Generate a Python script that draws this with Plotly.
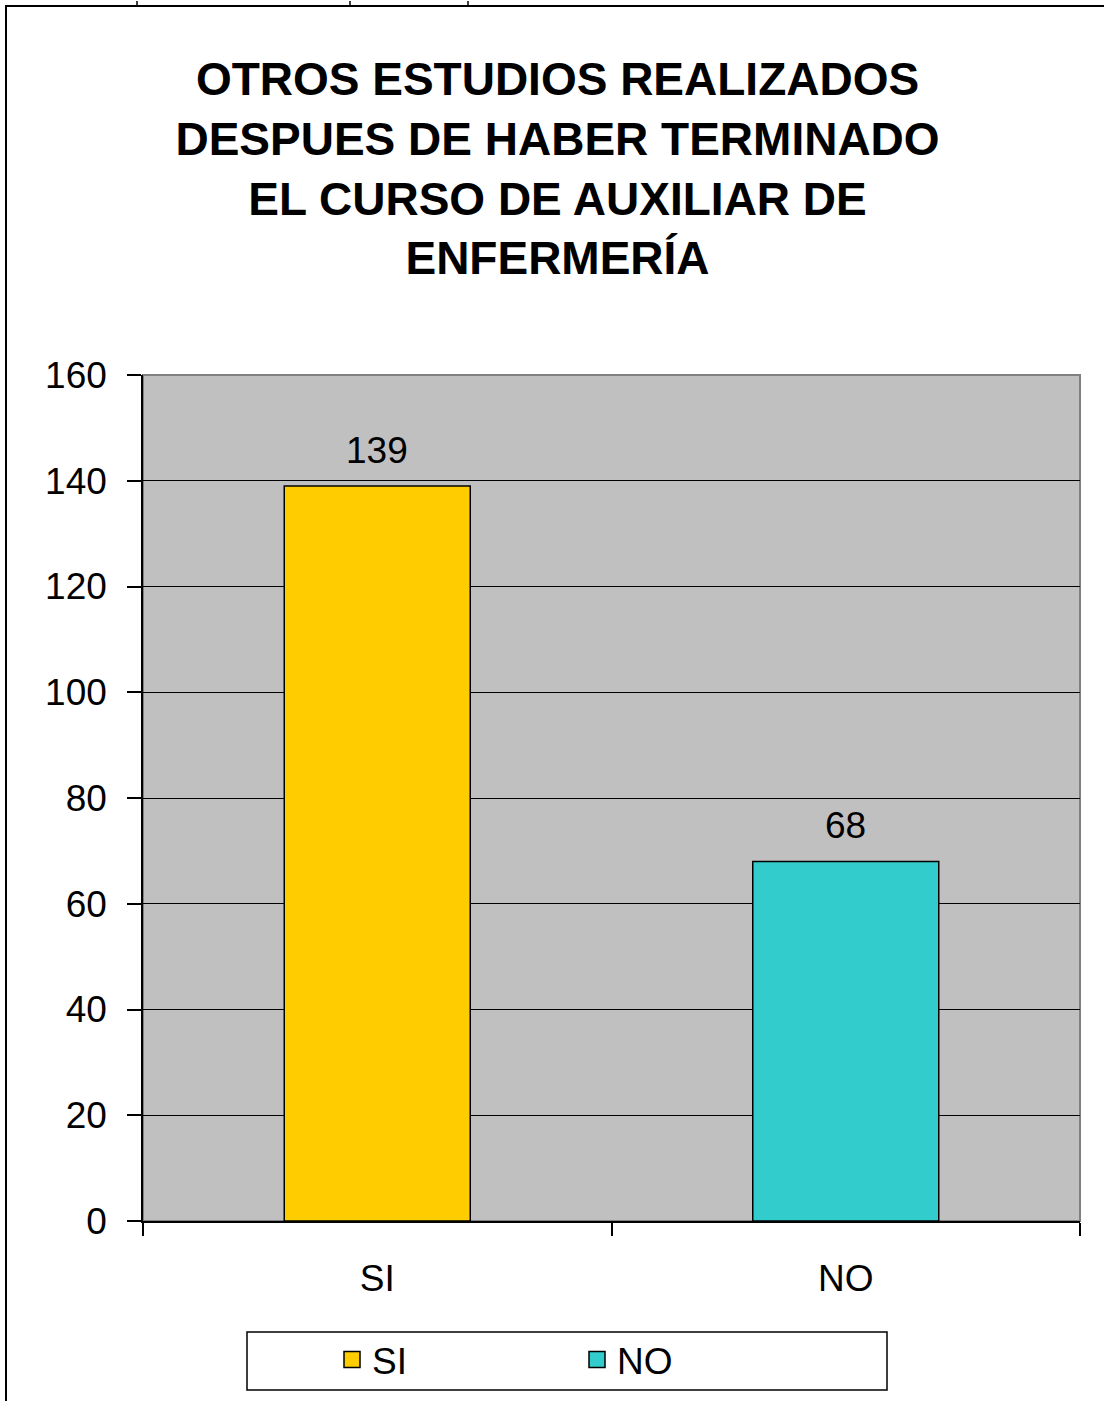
import plotly.graph_objects as go

categories = ["SI", "NO"]
values = [139, 68]
colors = ["#FFCC00", "#33CCCC"]
y_ticks = [0, 20, 40, 60, 80, 100, 120, 140, 160]
title_lines = ["OTROS ESTUDIOS REALIZADOS", "DESPUES DE HABER TERMINADO",
               "EL CURSO DE AUXILIAR DE", "ENFERMERÍA"]

W, H = 1104, 1401
L, R, T, B = 143, 1080, 375, 1221
pw, ph = R - L, B - T

def px(x):
    return (x - L) / pw

def py(y):
    return (B - y) / ph

FONT = "Liberation Sans, Arial, sans-serif"
FS = 37

fig = go.Figure()
for c, v, col in zip(categories, values, colors):
    fig.add_trace(go.Bar(
        x=[c], y=[v], name=c, showlegend=False, legendgroup=c,
        marker=dict(color=col, line=dict(color="black", width=1.5)),
        width=0.397,
    ))
# legend entries (square swatches)
for c, col in zip(categories, colors):
    fig.add_trace(go.Scatter(
        x=[None], y=[None], name=c, mode="markers", legendgroup=c,
        marker=dict(symbol="square", size=16, color=col,
                    line=dict(color="black", width=1.5)),
    ))

annotations = [
    dict(x=c, y=v, xref="x", yref="y", text=str(v), showarrow=False,
         yanchor="bottom", yshift=13,
         font=dict(size=FS, family=FONT, color="black"))
    for c, v in zip(categories, values)
]

shapes = [
    dict(type="rect", xref="paper", yref="paper", x0=0, x1=1, y0=0, y1=1,
         line=dict(color="#808080", width=2), layer="below"),
    dict(type="rect", xref="paper", yref="paper",
         x0=px(247), x1=px(887), y0=py(1390), y1=py(1332),
         line=dict(color="black", width=1.5), fillcolor="white"),
    dict(type="rect", xref="paper", yref="paper",
         x0=px(6), x1=px(1120), y0=py(1420), y1=py(6),
         line=dict(color="black", width=2)),
]
for xx in [137, 350, 468]:
    shapes.append(dict(type="line", xref="paper", yref="paper",
                       x0=px(xx), x1=px(xx), y0=py(1), y1=py(5),
                       line=dict(color="black", width=1.5)))

fig.update_layout(
    width=W, height=H,
    margin=dict(l=L, r=W - R, t=T, b=H - B, pad=0, autoexpand=False),
    paper_bgcolor="white", plot_bgcolor="#C0C0C0",
    font=dict(family=FONT, color="black", size=FS),
    title=dict(text="<b>" + "<br>".join(title_lines) + "</b>",
               font=dict(size=46, family=FONT, color="black"),
               x=0.505, xref="container", xanchor="center",
               y=1 - 95 / H, yref="container", yanchor="top"),
    bargap=0.6,
    showlegend=True,
    legend=dict(orientation="h", x=px(577), xanchor="center",
                y=py(1360), yanchor="middle",
                bgcolor="rgba(0,0,0,0)", borderwidth=0,
                font=dict(size=FS, family=FONT, color="black"),
                entrywidth=200, entrywidthmode="pixels", traceorder="normal"),
    shapes=shapes,
    annotations=annotations,
)
fig.update_xaxes(showline=True, linecolor="black", linewidth=1.5,
                 ticks="outside", tickson="boundaries", ticklen=13,
                 tickcolor="black", tickwidth=1.5, ticklabelstandoff=24,
                 tickfont=dict(size=FS, family=FONT, color="black"),
                 showgrid=False, fixedrange=True, automargin=False)
fig.update_yaxes(range=[0, 160], tickvals=y_ticks,
                 showline=True, linecolor="black", linewidth=1.5,
                 ticks="outside", ticklen=14, tickcolor="black", tickwidth=1.5,
                 ticklabelstandoff=13,
                 tickfont=dict(size=FS, family=FONT, color="black"),
                 showgrid=True, gridcolor="black", gridwidth=1.2,
                 zeroline=False, fixedrange=True, automargin=False)

fig.write_html("out.html", config={"displayModeBar": False},
               post_script="document.body.style.margin='0';")
